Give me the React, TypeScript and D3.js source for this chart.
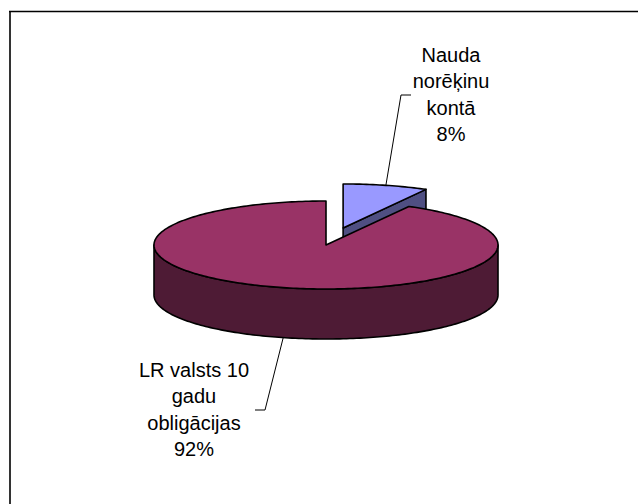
import React from 'react';
import * as d3 from 'd3';

// chart data
const categories = ['Nauda norēķinu kontā', 'LR valsts 10 gadu obligācijas'];
const values = [8, 92];
const labelLines = [['Nauda', 'norēķinu', 'kontā'], ['LR valsts 10', 'gadu', 'obligācijas']];
const topColors = ['#9999ff', '#993366'];
const sideColors = ['#4f4f82', '#4e1b35'];

const W = 638, H = 504;
const cx = 326, cy = 245, rx = 172, ry = 44, depth = 50;
const explode = [0.4, 0];

// where the label blocks sit and where their leader elbows are
const labelPos = [
  { x: 451, y: 62, elbow: [[411, 95], [401, 95]] },
  { x: 194, y: 377, elbow: [[255, 410], [265, 410]] },
];

function pt(ox: number, oy: number, a: number, k = 1): [number, number] {
  return [ox + k * rx * Math.sin(a), oy - k * ry * Math.cos(a)];
}

function rim(ox: number, oy: number, a0: number, a1: number): [number, number][] {
  const n = Math.max(2, Math.ceil(Math.abs(a1 - a0) / 0.02));
  return d3.range(n + 1).map(i => pt(ox, oy, a0 + (a1 - a0) * i / n));
}

const line = d3.line<[number, number]>();

export default function App() {
  const arcs = d3.pie<number>().sort(null)(values);
  const total = d3.sum(values);

  const slices = arcs.map((a, i) => {
    const mid = (a.startAngle + a.endAngle) / 2;
    const ox = cx + explode[i] * rx * Math.sin(mid);
    const oy = cy - explode[i] * ry * Math.cos(mid);
    return { a, i, mid, ox, oy };
  });

  const small = slices[0];
  const big = slices[1];

  // small slice: end radial face + top
  const sEnd = pt(small.ox, small.oy, small.a.endAngle);
  const smallFace = line([
    [small.ox, small.oy], sEnd, [sEnd[0], sEnd[1] + depth], [small.ox, small.oy + depth],
  ]) + 'Z';
  const smallTop = line([[small.ox, small.oy], ...rim(small.ox, small.oy, small.a.startAngle, small.a.endAngle)]) + 'Z';

  // big slice: front side + top
  const sideTop = rim(big.ox, big.oy, Math.PI / 2, Math.PI * 1.5);
  const sideBot = sideTop.map(p => [p[0], p[1] + depth] as [number, number]).reverse();
  const bigSide = line([...sideTop, ...sideBot]) + 'Z';
  const bigTop = line([[big.ox, big.oy], ...rim(big.ox, big.oy, big.a.startAngle, big.a.endAngle)]) + 'Z';

  const anchors = [
    pt(small.ox, small.oy, small.mid),
    (() => { const p = pt(big.ox, big.oy, big.mid); return [p[0], p[1] + depth] as [number, number]; })(),
  ];

  const font = 'Arial, "Liberation Sans", sans-serif';

  return (
    <svg width={W} height={H} style={{ position: 'absolute', left: 0, top: 0, background: '#fff' }}>
      <line x1={10} y1={11} x2={10} y2={H} stroke="#333" strokeWidth={2} />
      <line x1={9} y1={11.5} x2={W} y2={11.5} stroke="#000" strokeWidth={1.5} />

      <path d={smallFace} fill={sideColors[0]} stroke="#000" strokeWidth={1.6} strokeLinejoin="round" />
      <path d={smallTop} fill={topColors[0]} stroke="#000" strokeWidth={1.6} strokeLinejoin="round" />
      <path d={bigSide} fill={sideColors[1]} stroke="#000" strokeWidth={1.6} strokeLinejoin="round" />
      <path d={bigTop} fill={topColors[1]} stroke="#000" strokeWidth={1.6} strokeLinejoin="round" />

      {labelPos.map((lp, i) => (
        <g key={categories[i]}>
          <polyline
            points={[lp.elbow[0], lp.elbow[1], anchors[i]].map(p => p.join(',')).join(' ')}
            fill="none" stroke="#000" strokeWidth={1}
          />
          <text x={lp.x} y={lp.y} textAnchor="middle" fontFamily={font} fontSize={20} fill="#000">
            {[...labelLines[i], Math.round(values[i] / total * 100) + '%'].map((t, j) => (
              <tspan key={j} x={lp.x} dy={j === 0 ? 0 : 26.3}>{t}</tspan>
            ))}
          </text>
        </g>
      ))}
    </svg>
  );
}
